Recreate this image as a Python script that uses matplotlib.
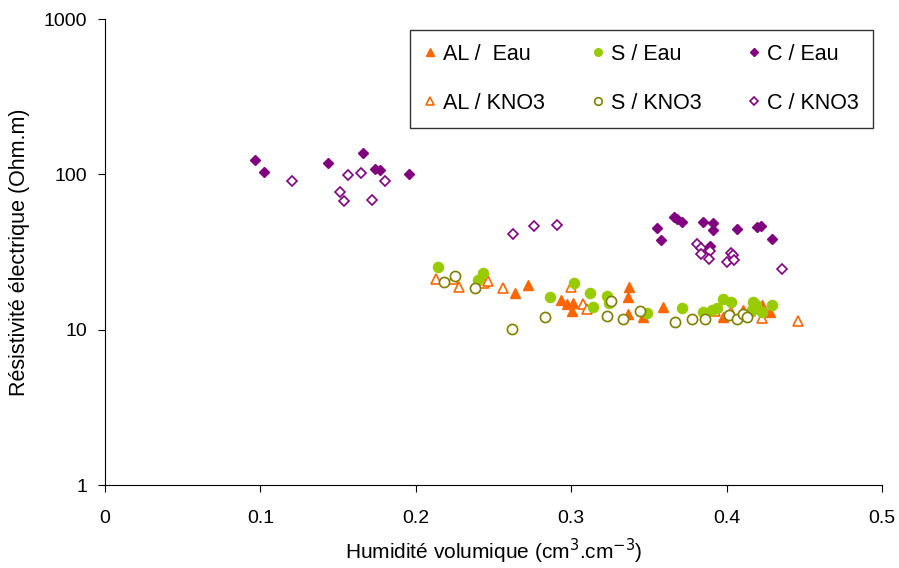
import matplotlib.pyplot as plt

plt.rcParams['font.family'] = ['Liberation Sans', 'DejaVu Sans']

# AL / Eau
al_eau_x = [0.2638, 0.2722, 0.2934, 0.297, 0.301, 0.3005, 0.337, 0.3366, 0.3366,
            0.346, 0.359, 0.3977, 0.4106, 0.4228, 0.428]
al_eau_y = [17.2, 19.4, 15.5, 14.6, 14.9, 13.2, 18.8, 16.2, 12.6,
            12.1, 14.0, 12.1, 13.4, 14.4, 13.0]
# AL / KNO3
al_kno3_x = [0.213, 0.224, 0.2278, 0.2439, 0.2465, 0.2561, 0.2999, 0.3076, 0.310,
             0.3925, 0.403, 0.415, 0.4228, 0.446]
al_kno3_y = [21.2, 21.2, 18.8, 20.0, 20.6, 18.5, 18.8, 14.6, 13.6,
             13.2, 13.0, 13.2, 11.9, 11.4]
# S / Eau
s_eau_x = [0.2143, 0.2432, 0.240, 0.2864, 0.3018, 0.312, 0.314, 0.323, 0.3243,
           0.3488, 0.371, 0.385, 0.3906, 0.394, 0.398, 0.403, 0.4163, 0.417,
           0.419, 0.4228, 0.429]
s_eau_y = [25.3, 23.2, 20.9, 16.2, 20.0, 17.2, 14.0, 16.5, 14.9,
           12.8, 13.8, 13.0, 13.4, 13.8, 15.8, 15.1, 13.4, 15.1,
           14.4, 13.0, 14.4]
# S / KNO3
s_kno3_x = [0.218, 0.2252, 0.238, 0.262, 0.283, 0.323, 0.3256, 0.3333, 0.344,
            0.3668, 0.378, 0.3861, 0.4015, 0.4067, 0.4106, 0.413]
s_kno3_y = [20.3, 22.2, 18.5, 10.1, 12.1, 12.2, 15.3, 11.7, 13.2,
            11.2, 11.7, 11.7, 12.4, 11.7, 12.6, 12.1]
# C / Eau
c_eau_x = [0.0965, 0.102, 0.1435, 0.166, 0.174, 0.177, 0.1956,
           0.355, 0.358, 0.366, 0.368, 0.371, 0.3848, 0.391, 0.391, 0.389,
           0.4067, 0.4196, 0.422, 0.429]
c_eau_y = [124, 104, 118, 137, 108, 106, 100,
           45, 38, 53, 51.5, 49, 49, 48.6, 43.8, 34.6,
           44.5, 45.8, 46.5, 38.4]
# C / KNO3
c_kno3_x = [0.1203, 0.1564, 0.1647, 0.1512, 0.1538, 0.1718, 0.180,
            0.2626, 0.276, 0.2909,
            0.381, 0.3835, 0.3835, 0.389, 0.3887, 0.400, 0.403, 0.404, 0.405, 0.4356]
c_kno3_y = [90.6, 99, 102, 77, 67, 68, 90.6,
            41.3, 46.5, 47.2,
            35.6, 33.6, 30.7, 32.1, 28.5, 27.3, 31.2, 30.3, 28.1, 24.6]

orange = '#FF6600'
green = '#99CC00'
olive = '#808000'
purple = '#800080'

fig = plt.figure(figsize=(8.99, 5.68), dpi=100)
ax = fig.add_axes([0.1168, 0.1461, 0.8643, 0.8204])

ms = 7.3
ax.plot(al_eau_x, al_eau_y, '^', ls='none', color=orange, ms=ms, label='AL /  Eau')
ax.plot(al_kno3_x, al_kno3_y, '^', ls='none', mfc='white', mec=orange, mew=1.2, ms=ms,
        label='AL / KNO3')
ax.plot(s_eau_x, s_eau_y, 'o', ls='none', color=green, ms=ms, label='S / Eau')
ax.plot(s_kno3_x, s_kno3_y, 'o', ls='none', mfc='white', mec=olive, mew=1.2, ms=ms,
        label='S / KNO3')
ax.plot(c_eau_x, c_eau_y, 'D', ls='none', color=purple, ms=5.5, label='C / Eau')
ax.plot(c_kno3_x, c_kno3_y, 'D', ls='none', mfc='white', mec=purple, mew=1.2, ms=5.5,
        label='C / KNO3')

ax.set_yscale('log')
ax.set_ylim(1, 1000)
ax.set_xlim(0, 0.5)
ax.set_yticks([1, 10, 100, 1000])
ax.set_yticklabels(['1', '10', '100', '1000'])
ax.minorticks_off()
ax.set_xticks([0, 0.1, 0.2, 0.3, 0.4, 0.5])
ax.set_xticklabels(['0', '0.1', '0.2', '0.3', '0.4', '0.5'])
ax.tick_params(labelsize=14, length=5, direction='out')
ax.tick_params(axis='x', pad=13)
ax.tick_params(axis='y', pad=8)
ax.spines['top'].set_visible(False)
ax.spines['right'].set_visible(False)

ax.set_xlabel('Humidité volumique (cm$^3$.cm$^{-3}$)', fontsize=15)
ax.set_ylabel('Résistivité électrique (Ohm.m)', fontsize=15.5)
ax.xaxis.set_label_coords(0.5, -0.112)
ax.yaxis.set_label_coords(-0.097, 0.5)

leg = ax.legend(ncol=3, loc='upper left', bbox_to_anchor=(0.3925, 0.9764),
                borderaxespad=0, fontsize=15.5, markerscale=0.75, frameon=True,
                fancybox=False, edgecolor='black', labelspacing=1.3,
                columnspacing=2.15, handlelength=0.6, handletextpad=0.3,
                borderpad=0.65)
leg.get_frame().set_linewidth(1.0)

fig.savefig('out.png', dpi=100)
